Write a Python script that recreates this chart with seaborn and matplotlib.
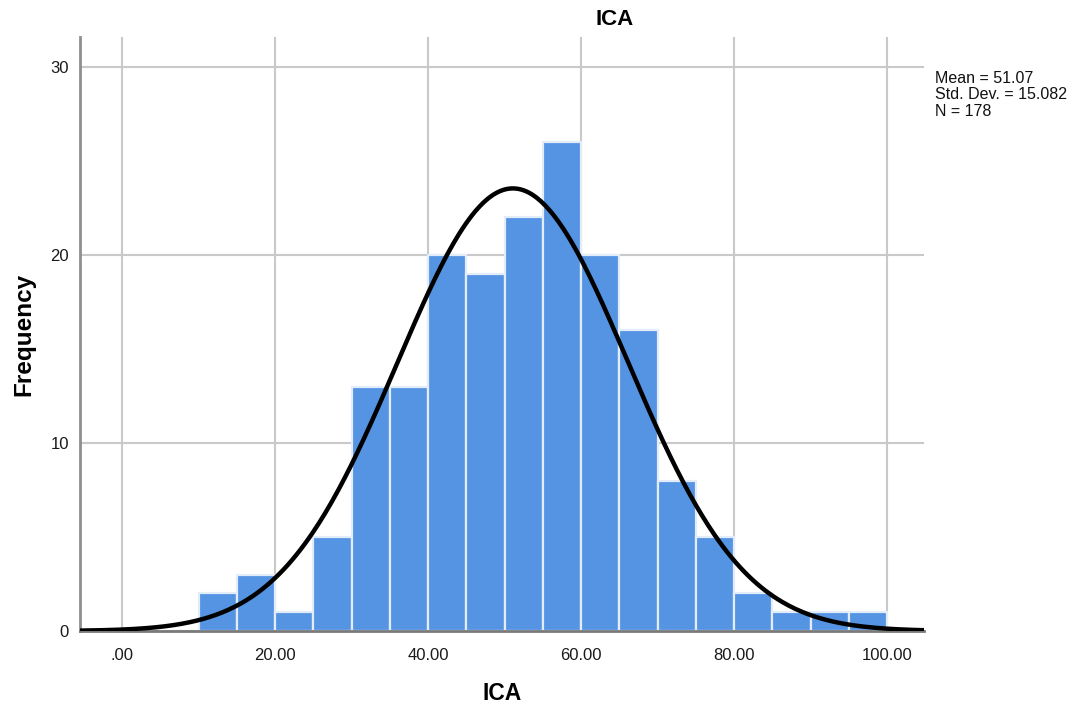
import numpy as np
import pandas as pd
import matplotlib
matplotlib.use("Agg")
import matplotlib.pyplot as plt
import seaborn as sns

# Histogram bins (width 5) and frequencies
bin_starts = [10, 15, 20, 25, 30, 35, 40, 45, 50, 55, 60, 65, 70, 75, 80, 85, 90, 95]
frequencies = [2, 3, 1, 5, 13, 13, 20, 19, 22, 26, 20, 16, 8, 5, 2, 1, 1, 1]
bin_width = 5

# Summary statistics
mean_val = 51.07
std_val = 15.082
n_val = 178

x_ticks = [0, 20, 40, 60, 80, 100]
x_ticklabels = [".00", "20.00", "40.00", "60.00", "80.00", "100.00"]
y_ticks = [0, 10, 20, 30]

sns.set_theme(style="white")
plt.rcParams["font.family"] = ["Liberation Sans", "DejaVu Sans"]

fig = plt.figure(figsize=(10.73, 7.10), dpi=100)
ax = fig.add_axes([0.0746, 0.1113, 0.7865, 0.8367])

df = pd.DataFrame({
    "ICA": [s + bin_width / 2 for s in bin_starts],
    "count": frequencies,
})

sns.histplot(data=df, x="ICA", weights="count", binwidth=bin_width,
             binrange=(bin_starts[0], bin_starts[-1] + bin_width), ax=ax,
             color="#5594e3", alpha=1.0, edgecolor="#e3edfa", linewidth=1.6,
             zorder=2)

# Fitted normal curve scaled to counts
xs = np.linspace(-5.5, 104.8, 400)
ys = n_val * bin_width / (std_val * np.sqrt(2 * np.pi)) * np.exp(-0.5 * ((xs - mean_val) / std_val) ** 2)
sns.lineplot(x=xs, y=ys, ax=ax, color="black", linewidth=3.2, zorder=3)

ax.set_xlim(-5.5, 104.8)
ax.set_ylim(0, 31.6)
ax.set_xticks(x_ticks)
ax.set_xticklabels(x_ticklabels, fontsize=12, color="#1a1a1a")
ax.set_yticks(y_ticks)
ax.set_yticklabels([str(v) for v in y_ticks], fontsize=12, color="#1a1a1a")
ax.tick_params(axis="both", length=0, pad=8)
ax.tick_params(axis="x", pad=12)

ax.grid(True, color="#c9c9c9", linewidth=1.5, zorder=0)
ax.set_axisbelow(True)

for side in ["top", "right"]:
    ax.spines[side].set_visible(False)
ax.spines["left"].set_color("#8f8f8f")
ax.spines["left"].set_linewidth(2)
ax.spines["bottom"].set_color("#7a7a7a")
ax.spines["bottom"].set_linewidth(2)

ax.set_xlabel("ICA", fontsize=16.5, fontweight="bold", labelpad=14, color="black")
ax.set_ylabel("Frequency", fontsize=17.5, fontweight="bold", labelpad=11, color="black")
fig.text(0.5725, 0.972, "ICA", ha="center", va="center", fontsize=16,
         fontweight="bold", color="black")

fig.text(0.871, 0.9, f"Mean = {mean_val:.2f}\nStd. Dev. = {std_val:.3f}\nN = {n_val}",
         ha="left", va="top", fontsize=11.5, linespacing=1.12, color="#111111")

fig.savefig("out.png", dpi=100, facecolor="white")
